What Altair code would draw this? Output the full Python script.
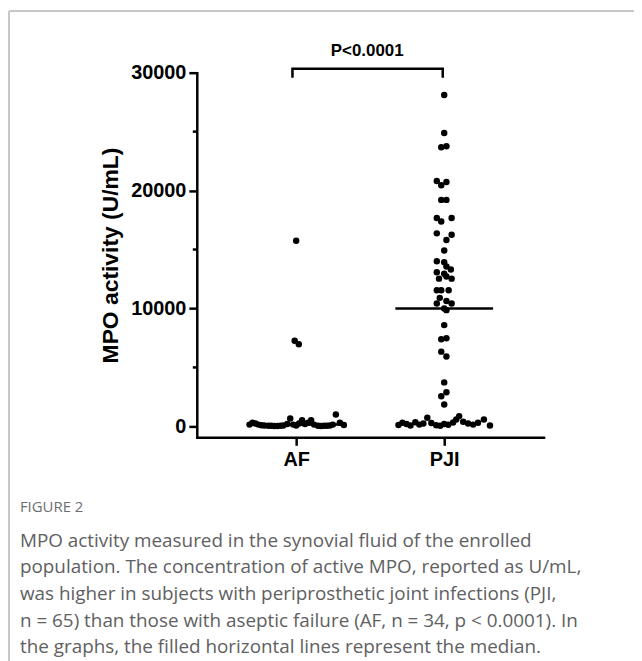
import altair as alt
import numpy as np
import pandas as pd

# ---------------- data ----------------
groups = ["AF", "PJI"]

af_values = [15750, 7270, 6970,
             150, 300, 250, 150, 100, 80, 60, 50, 40, 40, 60, 80, 200, 670, 150,
             80, 250, 530, 200, 300, 530, 150, 60, 40, 50, 60, 80, 150, 1000, 300, 120]
af_offsets = [0, -0.01, 0.018,
              -0.315, -0.295, -0.275, -0.255, -0.235, -0.215, -0.188, -0.168, -0.148,
              -0.128, -0.107, -0.087, -0.060, -0.040, -0.020, 0.0, 0.020, 0.040, 0.060,
              0.081, 0.101, 0.121, 0.148, 0.168, 0.188, 0.208, 0.228, 0.248, 0.268,
              0.295, 0.322]

pji_values = [28110, 24880, 23670, 23760, 20810, 20450, 20720, 19210, 19210,
              17670, 17380, 17670, 16370, 15810, 16260, 14910, 14010, 13930, 13560,
              13300, 13080, 12950, 12720, 12530, 12530, 11540, 11540, 11540, 10900,
              10420, 10640, 10420, 10000,
              9860, 8590, 7390, 7470, 6340, 5920, 3730, 2550, 2890, 1850,
              120, 300, 200, 80, 350, 150, 250, 730, 280, 100, 60, 200, 140, 330,
              590, 870, 400, 250, 150, 300, 590, 80]
pji_offsets = [0, 0, -0.02, 0.015, -0.05, -0.02, 0.015, -0.02, 0.015,
               -0.05, -0.02, 0.05, -0.05, 0.015, 0.05, 0, -0.05, 0, 0.015,
               0.045, -0.05, 0, 0.015, -0.035, 0.05, -0.05, -0.02, 0.03, -0.03,
               -0.05, 0.015, 0.05, 0,
               0.015, 0, -0.02, 0.015, -0.02, 0.015, 0, -0.02, 0.015, 0,
               -0.309, -0.282, -0.255, -0.228, -0.195, -0.168, -0.141, -0.114,
               -0.087, -0.054, -0.027, 0, 0.027, 0.060, 0.081, 0.101, 0.128,
               0.161, 0.195, 0.228, 0.268, 0.309]

y_ticks = [0, 10000, 20000, 30000]
y_minor_ticks = [5000, 15000, 25000]
p_label = "P<0.0001"
y_title = "MPO activity (U/mL)"
fig_label = "FIGURE 2"
caption = ("MPO activity measured in the synovial fluid of the enrolled\n"
           "population. The concentration of active MPO, reported as U/mL,\n"
           "was higher in subjects with periprosthetic joint infections (PJI,\n"
           "n = 65) than those with aseptic failure (AF, n = 34, p < 0.0001). In\n"
           "the graphs, the filled horizontal lines represent the median.")

# ---------------- tables ----------------
pts = pd.DataFrame({
    "group": ["AF"] * len(af_values) + ["PJI"] * len(pji_values),
    "value": af_values + pji_values,
    "pos": [0 + o for o in af_offsets] + [1 + o for o in pji_offsets],
})
med = pd.DataFrame({
    "group": groups,
    "median": [float(np.median(af_values)), float(np.median(pji_values))],
    "x0": [0 - 0.33, 1 - 0.33],
    "x1": [0 + 0.33, 1 + 0.33],
})
minor = pd.DataFrame({"v": y_minor_ticks})
bracket = pd.DataFrame({
    "x": [-0.025, -0.025, 0.99, 0.99],
    "y": [29579, 30337, 30337, 29579],
    "o": [0, 1, 2, 3],
})

FONT = "Liberation Sans"
xs = alt.Scale(domain=[-0.6711, 1.6711], nice=False, zero=False)
ys = alt.Scale(domain=[-930, 30000], nice=False, zero=False)

x_axis = alt.Axis(values=[0, 1], labelExpr="datum.value == 0 ? 'AF' : 'PJI'",
                  title=None, grid=False, domainColor="black", domainWidth=2.5,
                  domainCap="square", tickColor="black", tickWidth=2.5, tickSize=8,
                  labelFont=FONT, labelFontWeight="bold", labelFontSize=20,
                  labelColor="black", labelPadding=4)
y_axis = alt.Axis(values=y_ticks, format="d", grid=False, domainColor="black",
                  domainWidth=2.5, domainCap="square", tickColor="black",
                  tickWidth=2.5, tickSize=8, labelFont=FONT, labelFontWeight="bold",
                  labelFontSize=20, labelColor="black", labelPadding=3,
                  title=y_title, titleFont=FONT, titleFontWeight="bold",
                  titleFontSize=23, titleColor="black", titleAngle=270,
                  titleX=-79.5, titleY=183.5, titleAlign="center",
                  titleBaseline="alphabetic")

dots = alt.Chart(pts).mark_circle(size=42, color="black", opacity=1).encode(
    x=alt.X("pos:Q", scale=xs, axis=x_axis),
    y=alt.Y("value:Q", scale=ys, axis=y_axis),
)
medians = alt.Chart(med).mark_rule(color="black", strokeWidth=2.5).encode(
    x=alt.X("x0:Q", scale=xs), x2="x1:Q", y=alt.Y("median:Q", scale=ys)
)
minor_t = alt.Chart(minor).mark_rule(color="black", strokeWidth=2.5).encode(
    y=alt.Y("v:Q", scale=ys), x=alt.value(-4), x2=alt.value(0)
)
br = alt.Chart(bracket).mark_line(color="black", strokeWidth=2.5,
                                  strokeJoin="miter", strokeCap="butt").encode(
    x=alt.X("x:Q", scale=xs), y=alt.Y("y:Q", scale=ys), order="o:Q"
)
ptext = alt.Chart(pd.DataFrame({"t": [p_label], "x": [0.48]})).mark_text(
    font=FONT, fontWeight="bold", fontSize=17, color="black",
    align="center", baseline="middle").encode(
    x=alt.X("x:Q", scale=xs), y=alt.value(-22), text="t:N")

figlab = alt.Chart(pd.DataFrame({"t": [fig_label]})).mark_text(
    font="Open Sans", fontSize=15, color="#6d6e71", align="left",
    baseline="middle").encode(x=alt.value(-178), y=alt.value(437), text="t:N")
cap = alt.Chart(pd.DataFrame({"t": [caption]})).mark_text(
    font="Open Sans", fontSize=19, color="#5f6062", align="left",
    baseline="alphabetic", lineBreak="\n", lineHeight=26.8).encode(
    x=alt.value(-178), y=alt.value(477), text="t:N")

frame_top = alt.Chart(pd.DataFrame({"a": [0]})).mark_rule(
    color="#c8c8c8", strokeWidth=2).encode(
    x=alt.value(-189), x2=alt.value(440), y=alt.value(-62))
frame_left = alt.Chart(pd.DataFrame({"a": [0]})).mark_rule(
    color="#c8c8c8", strokeWidth=2).encode(
    x=alt.value(-189), y=alt.value(-62), y2=alt.value(600))

chart = alt.layer(frame_top, frame_left, medians, minor_t, br, dots, ptext,
                  figlab, cap).properties(
    width=349, height=367,
    autosize=alt.AutoSizeParams(type="none"),
    padding={"left": 190, "top": 63, "right": 91, "bottom": 223},
).configure_view(stroke=None)

chart.save("out.html", embed_options={"renderer": "svg", "actions": False})
